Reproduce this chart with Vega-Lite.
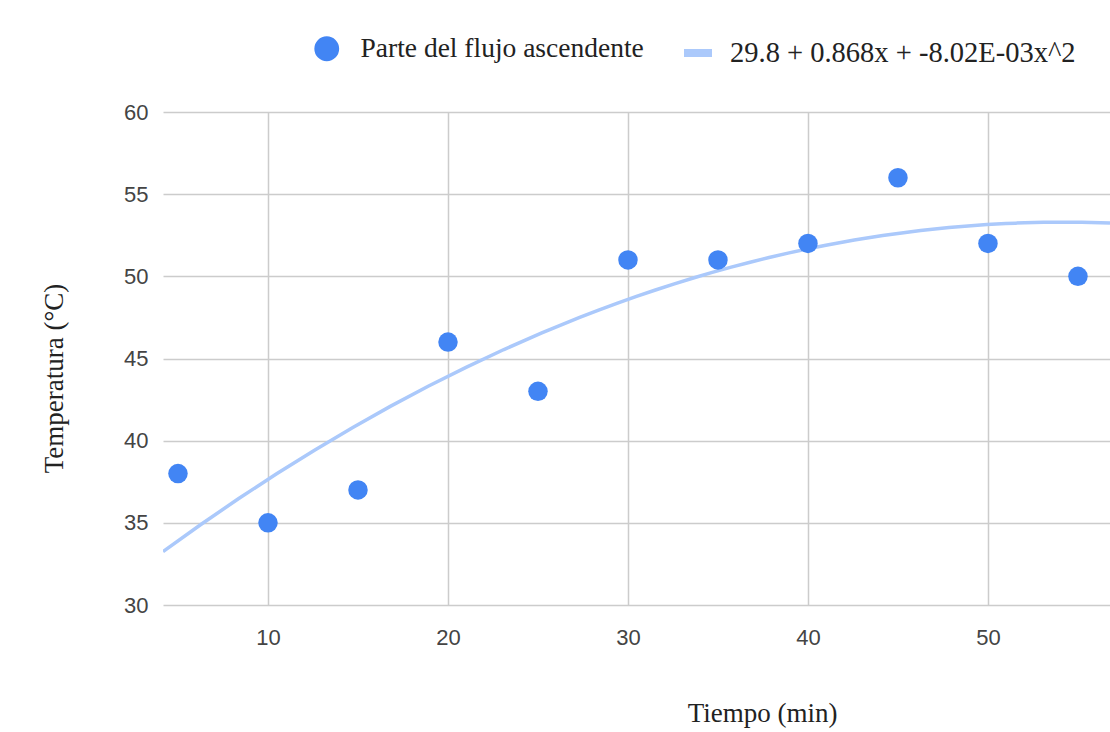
{
  "$schema": "https://vega.github.io/schema/vega-lite/v6.json",
  "autosize": {"type": "none"},
  "padding": {"left": 163, "top": 112, "right": 0, "bottom": 127},
  "width": 947,
  "height": 493,
  "background": "white",
  "config": {
    "view": {"stroke": null},
    "axis": {
      "domain": false,
      "ticks": false,
      "gridColor": "#cccccc",
      "gridWidth": 1.5,
      "labelFont": "Liberation Sans",
      "labelFontSize": 22,
      "labelColor": "#444444",
      "titleFont": "Liberation Serif",
      "titleFontSize": 27,
      "titleFontWeight": "normal",
      "titleColor": "#222222"
    },
    "legend": {
      "labelFont": "Liberation Serif",
      "labelFontSize": 27,
      "labelColor": "#222222",
      "labelLimit": 600,
      "padding": 0,
      "title": null
    }
  },
  "data": {
    "values": [
      {"tiempo": 5, "temp": 38},
      {"tiempo": 10, "temp": 35},
      {"tiempo": 15, "temp": 37},
      {"tiempo": 20, "temp": 46},
      {"tiempo": 25, "temp": 43},
      {"tiempo": 30, "temp": 51},
      {"tiempo": 35, "temp": 51},
      {"tiempo": 40, "temp": 52},
      {"tiempo": 45, "temp": 56},
      {"tiempo": 50, "temp": 52},
      {"tiempo": 55, "temp": 50},
      {"tiempo": 60, "temp": 56},
      {"tiempo": 65, "temp": 51}
    ]
  },
  "layer": [
    {
      "transform": [
        {"regression": "temp", "on": "tiempo", "method": "poly", "order": 2, "extent": [4.167, 56.78]}
      ],
      "mark": {"type": "line", "strokeWidth": 3.5, "clip": true},
      "encoding": {
        "x": {
          "field": "tiempo", "type": "quantitative",
          "scale": {"domain": [4.167, 56.78], "nice": false, "zero": false},
          "axis": {
            "title": "Tiempo (min)",
            "values": [10, 20, 30, 40, 50],
            "labelPadding": 22,
            "titleX": 599,
            "titleY": 116,
            "titleAnchor": null,
            "titleAlign": "center",
            "titleBaseline": "alphabetic"
          }
        },
        "y": {
          "field": "temp", "type": "quantitative",
          "scale": {"domain": [30, 60], "nice": false, "zero": false},
          "axis": {
            "title": "Temperatura (°C)",
            "values": [30, 35, 40, 45, 50, 55, 60],
            "labelPadding": 15,
            "titleX": -101,
            "titleY": 266,
            "titleAngle": -90,
            "titleAlign": "center",
            "titleBaseline": "alphabetic"
          }
        },
        "stroke": {
          "datum": "29.8 + 0.868x + -8.02E-03x^2",
          "scale": {"range": ["#abc9fb"]},
          "legend": {
            "orient": "none",
            "legendX": 517,
            "legendY": -77,
            "symbolType": "stroke",
            "symbolSize": 784,
            "symbolStrokeWidth": 8,
            "labelOffset": 14,
            "labelFontSize": 28.5
          }
        }
      }
    },
    {
      "mark": {"type": "point", "filled": true, "size": 380, "opacity": 1, "clip": true},
      "encoding": {
        "x": {"field": "tiempo", "type": "quantitative"},
        "y": {"field": "temp", "type": "quantitative"},
        "color": {
          "datum": "Parte del flujo ascendente",
          "scale": {"range": ["#4285F4"]},
          "legend": {
            "orient": "none",
            "legendX": 150,
            "legendY": -77,
            "symbolType": "circle",
            "symbolSize": 616,
            "symbolOpacity": 1,
            "labelOffset": 20,
            "labelFontSize": 27.5
          }
        }
      }
    }
  ]
}
